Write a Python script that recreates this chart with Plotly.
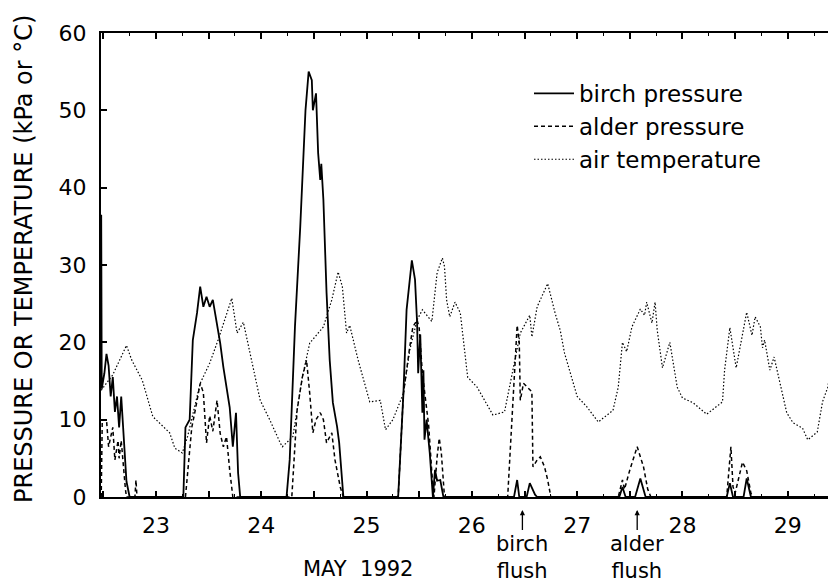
import plotly.graph_objects as go

# ---------------- data ----------------
temp_day = [22.48, 22.59, 22.72, 22.77, 22.87, 22.97, 23.13, 23.18, 23.25, 23.30,
            23.42, 23.51, 23.59, 23.66, 23.72, 23.77, 23.83, 23.99, 24.08, 24.18,
            24.20, 24.30, 24.39, 24.46, 24.59, 24.67, 24.73, 24.77, 24.81, 24.84,
            24.92, 25.03, 25.13, 25.18, 25.25, 25.35, 25.41, 25.44, 25.48, 25.53,
            25.62, 25.67, 25.72, 25.74, 25.76, 25.79, 25.84, 25.89, 25.96, 26.05,
            26.20, 26.31, 26.39, 26.46, 26.55, 26.57, 26.62, 26.72, 26.79, 26.84,
            26.88, 27.00, 27.09, 27.20, 27.34, 27.39, 27.43, 27.47, 27.52, 27.60,
            27.64, 27.66, 27.71, 27.74, 27.76, 27.81, 27.88, 27.95, 28.00, 28.10,
            28.23, 28.38, 28.40, 28.45, 28.51, 28.57, 28.61, 28.66, 28.69, 28.74,
            28.76, 28.78, 28.83, 28.87, 28.99, 29.05, 29.14, 29.19, 29.28, 29.33,
            29.38, 29.44, 29.46]
temp_val = [13.8, 15.8, 19.6, 17.7, 15.1, 10.4, 8.3, 6.3, 5.7, 7.8,
            14.7, 17.3, 20.3, 23.3, 25.7, 21.2, 22.6, 12.5, 10.0, 7.0,
            6.5, 7.8, 15.5, 19.9, 22.0, 25.5, 29.1, 27.2, 21.2, 22.2,
            17.7, 12.3, 12.5, 8.7, 10.0, 13.4, 19.0, 20.7, 22.9, 24.2,
            22.7, 29.0, 30.9, 29.8, 25.5, 23.3, 25.2, 23.8, 15.5, 14.2,
            10.6, 11.0, 16.4, 21.2, 23.5, 20.7, 24.6, 27.6, 23.8, 21.5,
            18.6, 13.0, 11.7, 9.7, 11.2, 14.2, 20.0, 18.8, 22.0, 24.3,
            23.5, 25.2, 22.5, 25.2, 21.6, 16.7, 20.0, 14.2, 12.8, 12.2,
            10.7, 12.3, 16.4, 21.9, 16.7, 21.2, 23.9, 20.9, 23.3, 22.0,
            19.3, 20.3, 16.4, 18.1, 10.9, 9.6, 8.9, 7.4, 8.4, 12.3,
            14.2, 19.4, 18.1]

birch_day = [22.48, 22.485, 22.51, 22.53, 22.55, 22.57, 22.59, 22.61, 22.63, 22.65,
             22.67, 22.69, 22.72, 22.75, 23.26, 23.28, 23.32, 23.35, 23.39, 23.42,
             23.45, 23.48, 23.51, 23.54, 23.58, 23.61, 23.64, 23.67, 23.70, 23.73,
             23.76, 23.78, 23.80, 24.24, 24.27, 24.32, 24.37, 24.42, 24.45, 24.48,
             24.49, 24.52, 24.54, 24.56, 24.57, 24.59, 24.62, 24.65, 24.68, 24.72,
             24.74, 24.78, 25.30, 25.35, 25.38, 25.43, 25.46, 25.48, 25.49, 25.51,
             25.53, 25.54, 25.55, 25.57, 25.60, 25.63, 25.65, 25.67, 25.70, 25.73,
             26.40, 26.43, 26.45, 26.52, 26.55, 26.60, 26.62, 27.40, 27.43, 27.46,
             27.55, 27.60, 27.65, 28.42, 28.45, 28.48, 28.58, 28.61, 28.65, 29.41,
             29.43, 29.46]
birch_val = [36.5, 14.0, 16.0, 18.5, 17.0, 13.0, 15.5, 11.0, 13.0, 9.0,
             13.0, 8.0, 2.0, 0.0, 0.0, 9.0, 10.0, 20.3, 23.8, 27.2,
             24.6, 25.9, 24.6, 25.5, 22.5, 19.9, 16.8, 14.2, 11.6, 6.5,
             10.9, 3.1, 0.0, 0.0, 4.8, 22.0, 34.9, 50.0, 55.0, 53.9,
             50.0, 52.2, 44.5, 41.0, 43.1, 38.4, 26.4, 17.7, 12.2, 9.1,
             7.0, 0.0, 0.0, 13.4, 24.2, 30.6, 28.1, 22.5, 16.0, 21.0,
             10.9, 16.4, 7.4, 10.0, 5.7, 0.0, 3.5, 2.1, 2.2, 0.0,
             0.0, 2.2, 0.0, 0.0, 1.8, 0.3, 0.0, 0.0, 1.3, 0.0,
             0.0, 2.4, 0.0, 0.0, 1.8, 0.0, 0.0, 2.4, 0.0, 0.0,
             0.9, 1.2]

alder_day = [22.48, 22.49, 22.53, 22.55, 22.59, 22.61, 22.64, 22.65, 22.67, 22.69,
             22.71, 22.72, 22.80, 22.81, 22.82, 23.28, 23.31, 23.34, 23.37, 23.42,
             23.45, 23.48, 23.51, 23.54, 23.58, 23.61, 23.64, 23.67, 23.70, 23.73,
             24.29, 24.34, 24.39, 24.43, 24.46, 24.49, 24.52, 24.56, 24.59, 24.62,
             24.67, 24.70, 24.75, 24.78, 25.30, 25.35, 25.41, 25.44, 25.48, 25.50,
             25.53, 25.56, 25.59, 25.62, 25.64, 25.67, 25.69, 25.71, 25.74, 26.34,
             26.38, 26.41, 26.43, 26.45, 26.46, 26.49, 26.52, 26.57, 26.58, 26.62,
             26.65, 26.69, 26.72, 26.75, 27.39, 27.43, 27.45, 27.50, 27.57, 27.63,
             27.67, 27.70, 28.42, 28.46, 28.48, 28.50, 28.57, 28.61, 28.65, 28.67,
             29.46]
alder_val = [0.0, 10.0, 10.0, 6.5, 9.0, 4.8, 7.3, 5.0, 7.3, 3.5,
             1.0, 0.0, 0.0, 2.2, 0.0, 0.0, 4.8, 9.0, 11.0, 14.7,
             13.5, 7.0, 10.5, 8.5, 12.5, 8.2, 6.5, 7.8, 3.5, 0.0,
             0.0, 11.2, 15.5, 17.7, 13.4, 8.3, 10.0, 10.9, 10.0, 7.0,
             8.3, 4.8, 1.3, 0.0, 0.0, 13.4, 19.4, 22.0, 22.9, 21.8,
             16.0, 12.5, 9.2, 3.1, 0.0, 5.2, 7.6, 5.7, 0.0, 0.0,
             10.0, 18.1, 22.2, 20.0, 12.5, 14.7, 14.3, 13.6, 3.9, 4.8,
             5.2, 3.9, 2.2, 0.0, 0.0, 2.2, 1.0, 3.5, 6.5, 3.9,
             1.0, 0.0, 0.0, 6.5, 1.3, 0.5, 4.5, 3.4, 0.5, 0.0,
             0.0]

day_ticks = [22.5, 23, 23.5, 24, 24.5, 25, 25.5, 26, 26.5, 27, 27.5, 28, 28.5, 29]
day_labels = ["", "23", "", "24", "", "25", "", "26", "", "27", "", "28", "", "29"]
y_ticks = [0, 10, 20, 30, 40, 50, 60]

flush_days = [26.48, 27.57]
flush_labels = ["birch<br>flush", "alder<br>flush"]

series_names = ["birch pressure", "alder pressure", "air temperature"]

# ---------------- figure ----------------
FONT = "DejaVu Sans"
# the page body has an 8px default margin, so the figure is sized to fill the
# remaining window and its margins are reduced accordingly
FIG_W, FIG_H = 828, 575
M_L, M_T, M_B = 93, 25, 86
PLOT_W = FIG_W - M_L
PLOT_H = FIG_H - M_T - M_B


def px_x(screen_x):
    return (screen_x - 8 - M_L) / PLOT_W


def px_y(screen_y):
    return (FIG_H - M_B - (screen_y - 8)) / PLOT_H


fig = go.Figure()

fig.add_trace(go.Scatter(x=birch_day, y=birch_val, mode="lines", name=series_names[0],
                         line=dict(color="black", width=1.8)))
fig.add_trace(go.Scatter(x=alder_day, y=alder_val, mode="lines", name=series_names[1],
                         line=dict(color="black", width=1.5, dash="4px,3px")))
fig.add_trace(go.Scatter(x=temp_day, y=temp_val, mode="lines", name=series_names[2],
                         line=dict(color="black", width=1.2, dash="1.5px,2px")))

for d, lab in zip(flush_days, flush_labels):
    fig.add_annotation(x=d, xref="x", y=px_y(510), yref="paper", text=lab,
                       showarrow=True, ax=0, ay=47, arrowhead=2, arrowsize=0.8,
                       arrowwidth=1.3, arrowcolor="black",
                       font=dict(family=FONT, size=21, color="black"))

fig.add_annotation(x=px_x(358), xref="paper", y=px_y(569), yref="paper",
                   xanchor="center", yanchor="middle", text="MAY  1992",
                   showarrow=False, font=dict(family=FONT, size=21, color="black"))

fig.add_annotation(x=px_x(24), xref="paper", y=px_y(259), yref="paper",
                   xanchor="center", yanchor="middle",
                   text="PRESSURE OR TEMPERATURE (kPa or °C)", textangle=-90,
                   showarrow=False, font=dict(family=FONT, size=24, color="black"))

fig.update_layout(
    width=FIG_W, height=FIG_H,
    margin=dict(l=M_L, r=0, t=M_T, b=M_B, pad=0),
    paper_bgcolor="white", plot_bgcolor="white",
    font=dict(family=FONT, size=22, color="black"),
    showlegend=True,
    legend=dict(x=px_x(529), y=px_y(72), xanchor="left", yanchor="top",
                bgcolor="rgba(0,0,0,0)", font=dict(family=FONT, size=23),
                itemwidth=40, tracegroupgap=0),
)

fig.update_xaxes(range=[22.478, 29.458], showgrid=False, zeroline=False,
                 showline=True, linecolor="black", linewidth=2, mirror="ticks",
                 ticks="inside", ticklen=6, tickwidth=1.5, tickcolor="black",
                 tickmode="array", tickvals=day_ticks, ticktext=day_labels,
                 ticklabelstandoff=8,
                 minor=dict(ticks="inside", ticklen=3, tickwidth=1.2, tickcolor="black",
                            tick0=22.25, dtick=0.25),
                 tickfont=dict(family=FONT, size=22))
fig.update_yaxes(range=[0, 60], showgrid=False, zeroline=False,
                 showline=True, linecolor="black", linewidth=2, mirror=False,
                 ticks="inside", ticklen=6, tickwidth=1.5, tickcolor="black",
                 tickmode="array", tickvals=y_ticks,
                 ticklabelstandoff=8,
                 tickfont=dict(family=FONT, size=22))

fig.write_html("out.html")
